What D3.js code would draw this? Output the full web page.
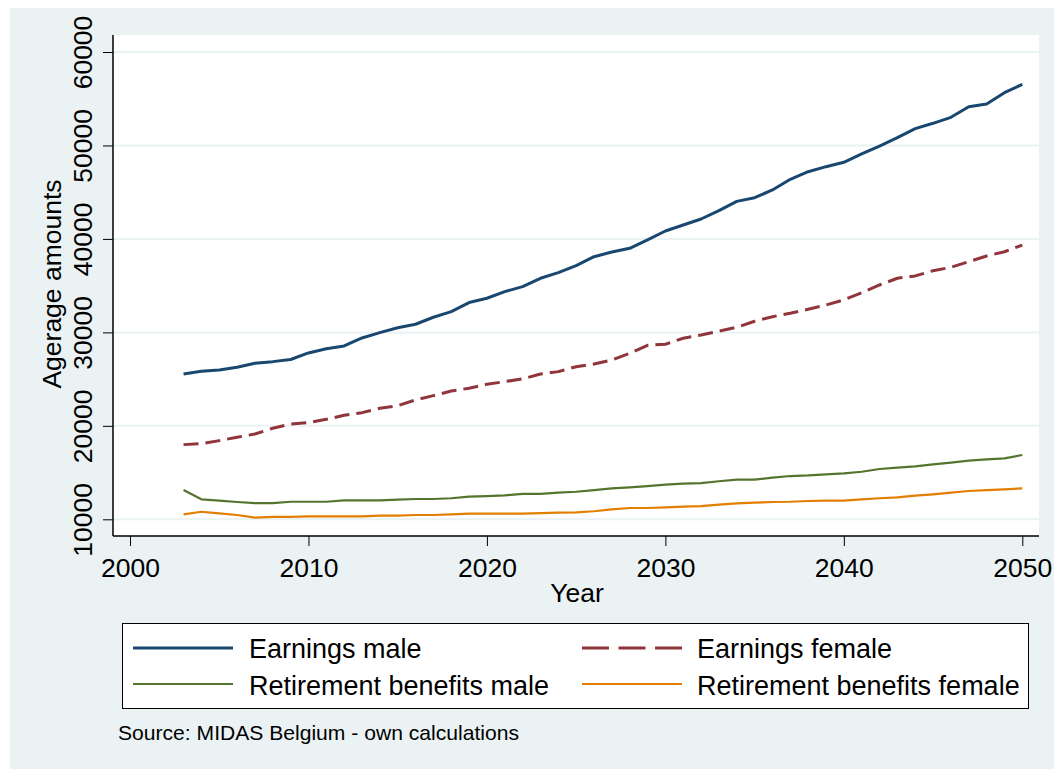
<!DOCTYPE html>
<html>
<head>
<meta charset="utf-8">
<script src="https://cdn.jsdelivr.net/npm/d3@7"></script>
<style>
html,body{margin:0;padding:0;background:#fff;}
svg{display:block;font-family:"Liberation Sans",Arial,Helvetica,sans-serif;}
</style>
</head>
<body>
<svg id="chart" width="1054" height="769"></svg>
<script>
const years = d3.range(2003, 2051);
const earningsMale = [25550,25840,25980,26270,26700,26870,27100,27800,28250,28550,29400,29970,30500,30870,31620,32220,33190,33650,34360,34900,35790,36390,37150,38100,38600,39000,39890,40850,41490,42130,43020,44020,44410,45240,46380,47190,47730,48200,49090,49940,50830,51800,52370,53010,54150,54440,55650,56540];
const earningsFemale = [17990,18100,18420,18780,19130,19740,20200,20340,20700,21130,21410,21880,22160,22770,23230,23730,24020,24450,24730,25020,25550,25800,26330,26620,27050,27760,28620,28730,29370,29720,30120,30550,31190,31680,32040,32470,32930,33470,34250,35070,35790,36040,36600,36960,37560,38170,38630,39340];
const retMale = [13135,12140,11990,11850,11740,11740,11880,11880,11880,12030,12030,12030,12100,12170,12170,12250,12420,12490,12570,12710,12710,12850,12950,13130,13310,13420,13560,13700,13810,13880,14070,14240,14240,14450,14630,14690,14810,14920,15090,15380,15520,15670,15880,16060,16270,16420,16520,16880];
const retFemale = [10530,10810,10640,10460,10170,10250,10250,10320,10320,10320,10320,10390,10390,10460,10460,10530,10600,10600,10600,10600,10670,10710,10750,10860,11070,11210,11210,11280,11350,11420,11560,11710,11780,11850,11880,11960,11990,11990,12140,12250,12350,12530,12670,12850,13030,13130,13210,13310];
const xTicks = [2000,2010,2020,2030,2040,2050];
const yTicks = [10000,20000,30000,40000,50000,60000];
const seriesNames = ["Earnings male","Earnings female","Retirement benefits male","Retirement benefits female"];
const seriesColors = ["#1a476f","#90353b","#55752f","#e37e00"];

const series = [earningsMale, earningsFemale, retMale, retFemale];
const widths = [3, 3, 2.2, 2.2];
const dashes = [null, "15,7", null, null];

const svg = d3.select("#chart");
const bg = "#eaf2f3";

svg.append("rect").attr("x",10).attr("y",8).attr("width",1044).attr("height",761).attr("fill",bg);

const plot = {left:113, right:1039, top:35, bottom:536};
svg.append("rect").attr("x",plot.left).attr("y",plot.top)
  .attr("width",plot.right-plot.left).attr("height",plot.bottom-plot.top).attr("fill","#fff");

const x = d3.scaleLinear().domain([2000,2050]).range([130,1022.3]);
const y = d3.scaleLinear().domain([10000,60000]).range([519.3,52]);

svg.append("g").selectAll("line").data(yTicks).join("line")
  .attr("x1",plot.left).attr("x2",plot.right)
  .attr("y1",d=>y(d)).attr("y2",d=>y(d))
  .attr("stroke",bg).attr("stroke-width",2);

const yAxis = d3.axisLeft(y).tickValues(yTicks).tickSize(10).tickFormat(d3.format("d"));
const gy = svg.append("g").attr("transform",`translate(${plot.left},0)`).call(yAxis);
gy.select(".domain").remove();
gy.selectAll(".tick line").attr("stroke","#000").attr("stroke-width",1);
gy.selectAll(".tick text")
  .attr("x",null).attr("y",null).attr("dy",0)
  .attr("transform","translate(-21,0) rotate(-90)")
  .attr("text-anchor","middle")
  .attr("font-size",26.5).attr("font-family","Liberation Sans, Arial, sans-serif").attr("fill","#000");

svg.append("line").attr("x1",plot.left).attr("x2",plot.left).attr("y1",plot.top).attr("y2",plot.bottom)
  .attr("stroke","#000").attr("stroke-width",1.5);

const xAxis = d3.axisBottom(x).tickValues(xTicks).tickSize(10).tickFormat(d3.format("d"));
const gx = svg.append("g").attr("transform",`translate(0,${plot.bottom})`).call(xAxis);
gx.select(".domain").remove();
gx.selectAll(".tick line").attr("stroke","#000").attr("stroke-width",1);
gx.selectAll(".tick text").attr("font-size",26.5).attr("font-family","Liberation Sans, Arial, sans-serif")
  .attr("fill","#000").attr("y",41).attr("dy",0);
svg.append("line").attr("x1",plot.left).attr("x2",plot.right).attr("y1",plot.bottom).attr("y2",plot.bottom)
  .attr("stroke","#000").attr("stroke-width",1.5);

svg.append("text").attr("x",577).attr("y",602).attr("text-anchor","middle")
  .attr("font-size",26.5).attr("fill","#000").text("Year");
svg.append("text").attr("transform","translate(61,284) rotate(-90)").attr("text-anchor","middle")
  .attr("font-size",26.5).attr("fill","#000").text("Agerage amounts");

const line = d3.line().x((d,i)=>x(years[i])).y(d=>y(d));
series.forEach((s,k)=>{
  svg.append("path").datum(s).attr("d",line).attr("fill","none")
    .attr("stroke",seriesColors[k]).attr("stroke-width",widths[k])
    .attr("stroke-linejoin","round")
    .attr("stroke-dasharray",dashes[k]);
});

svg.append("rect").attr("x",122.5).attr("y",623.5).attr("width",906).attr("height",85)
  .attr("fill","#fff").attr("stroke","#000").attr("stroke-width",1);
const legPos = [
  {lx:133, tx:249, ly:648, ty:657.5},
  {lx:582, tx:697, ly:648, ty:657.5},
  {lx:133, tx:249, ly:684, ty:695},
  {lx:582, tx:697, ly:684, ty:695}
];
seriesNames.forEach((n,k)=>{
  const p = legPos[k];
  svg.append("line").attr("x1",p.lx).attr("x2",p.lx+100).attr("y1",p.ly).attr("y2",p.ly)
    .attr("stroke",seriesColors[k]).attr("stroke-width",widths[k])
    .attr("stroke-dasharray",dashes[k] ? "27,9.5" : null);
  svg.append("text").attr("x",p.tx).attr("y",p.ty).attr("font-size",27).attr("fill","#000").text(n);
});

svg.append("text").attr("x",118).attr("y",740).attr("font-size",21.1).attr("fill","#000")
  .text("Source: MIDAS Belgium - own calculations");
</script>
</body>
</html>
